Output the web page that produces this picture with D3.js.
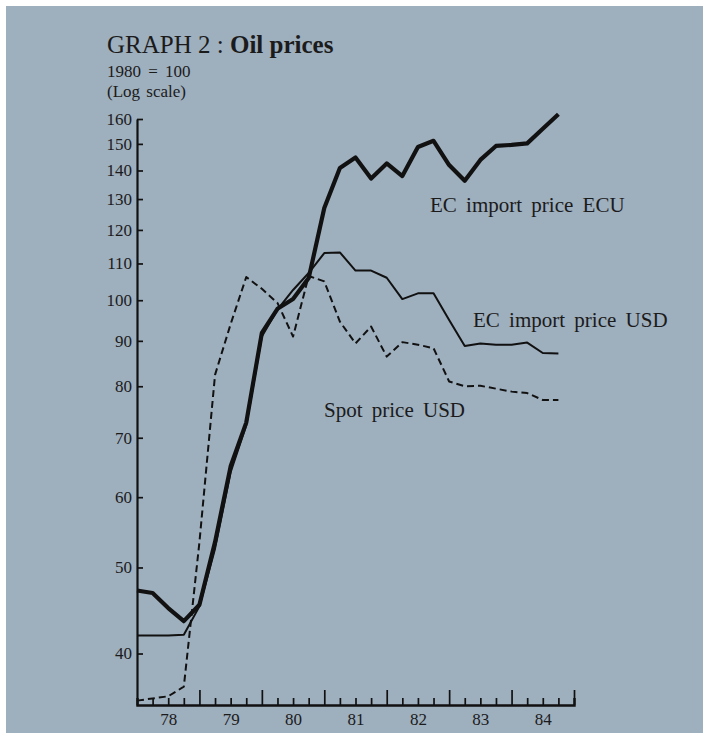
<!DOCTYPE html>
<html>
<head>
<meta charset="utf-8">
<script src="https://cdn.jsdelivr.net/npm/d3@7"></script>
<style>
  body { margin: 0; background: #ffffff; }
  svg { display: block; }
  text { font-family: 'Liberation Serif', 'Times New Roman', serif; fill: #1b1b1b; }
</style>
</head>
<body>
<svg width="703" height="733"></svg>
<script>
const quarters = ['1978Q1','1978Q2','1978Q3','1978Q4','1979Q1','1979Q2','1979Q3','1979Q4',
                  '1980Q1','1980Q2','1980Q3','1980Q4','1981Q1','1981Q2','1981Q3','1981Q4',
                  '1982Q1','1982Q2','1982Q3','1982Q4','1983Q1','1983Q2','1983Q3','1983Q4',
                  '1984Q1','1984Q2','1984Q3','1984Q4']
const ecu_import = [47.1, 46.8, 45.0, 43.5, 45.4, 53.4, 65.0, 72.8, 91.9, 97.8, 100.3, 105.9, 127.0, 140.9,
                    144.8, 137.1, 142.6, 138.0, 148.8, 151.2, 142.0, 136.3, 143.9, 149.2, 149.6, 150.2, 156.0, 162.0]
const usd_import = [41.9, 41.9, 41.9, 42.0, 45.2, 52.5, 64.0, 72.3, 91.0, 97.6, 102.7, 107.3, 113.0, 113.2,
                    108.0, 108.0, 106.0, 100.3, 101.8, 101.8, 95.0, 88.8, 89.4, 89.1, 89.1, 89.6, 87.2, 87.1]
const usd_spot   = [35.4, 35.6, 35.8, 36.7, 53.4, 82.4, 94.0, 106.2, 103.0, 99.3, 91.0, 106.5, 105.0, 94.6,
                    89.4, 93.4, 86.4, 89.7, 89.1, 88.3, 81.0, 80.0, 80.1, 79.5, 78.9, 78.6, 77.2, 77.2]
const y_ticks = [40, 50, 60, 70, 80, 90, 100, 110, 120, 130, 140, 150, 160]
const year_labels = ['78', '79', '80', '81', '82', '83', '84']
const series_labels = ['EC import price ECU', 'EC import price USD', 'Spot price USD']

function quarter_to_year(q) {
  return +q.slice(0, 4) + (+q.slice(5) - 1) / 4
}

const svg = d3.select('svg')

svg.append('rect').attr('x', 6).attr('y', 6).attr('width', 697).attr('height', 727).attr('fill', '#9eafbe')

const x = d3.scaleLinear().domain([1978, 1985]).range([137, 574])
const y = d3.scaleLog().domain([35, 160]).range([705, 119])

// y axis, ticks pointing into the plot
const yaxis = svg.append('g')
  .attr('transform', 'translate(137,0)')
  .call(d3.axisLeft(y).tickValues(y_ticks).tickFormat(d3.format('d')).tickSize(-6).tickSizeOuter(0).tickPadding(5))
yaxis.select('.domain').attr('stroke', '#111').attr('stroke-width', 2.2)
yaxis.selectAll('.tick line').attr('stroke', '#111').attr('stroke-width', 1.7)
yaxis.selectAll('.tick text').attr('font-size', 17).attr('font-family', 'Liberation Serif').attr('fill', '#222')

// x axis: quarter ticks, year ticks, labels centred on the year
const years = d3.range(1979, 1986)
const xminor = svg.append('g')
  .attr('transform', 'translate(0,705)')
  .call(d3.axisBottom(x).tickValues(quarters.map(quarter_to_year).filter((t) => t % 1 != 0)).tickSize(-7).tickFormat(''))
xminor.select('.domain').attr('stroke', '#111').attr('stroke-width', 2.4)
xminor.selectAll('.tick line').attr('stroke', '#111').attr('stroke-width', 1.7)

const xmajor = svg.append('g')
  .attr('transform', 'translate(0,705)')
  .call(d3.axisBottom(x).tickValues(years).tickSize(-15).tickFormat(''))
xmajor.select('.domain').remove()
xmajor.selectAll('.tick line').attr('stroke', '#111').attr('stroke-width', 1.7)

const xlabels = svg.append('g')
  .attr('transform', 'translate(0,705)')
  .call(d3.axisBottom(x).tickValues(year_labels.map((d) => 1900 + +d + 0.5)).tickSize(0).tickPadding(8)
        .tickFormat((d, i) => year_labels[i]))
xlabels.select('.domain').remove()
xlabels.selectAll('.tick text').attr('font-size', 17).attr('font-family', 'Liberation Serif').attr('fill', '#222')

const line = d3.line()
  .x((d) => x(d[0]))
  .y((d) => y(d[1]))

const styles = [
  {values: ecu_import, width: 4.2, dash: null},
  {values: usd_import, width: 2, dash: null},
  {values: usd_spot, width: 2, dash: '7,4'}
]
styles.forEach((s) => {
  svg.append('path')
    .datum(quarters.map((q, i) => [quarter_to_year(q), s.values[i]]))
    .attr('fill', 'none')
    .attr('stroke', '#111')
    .attr('stroke-width', s.width)
    .attr('stroke-linejoin', 'round')
    .attr('stroke-dasharray', s.dash)
    .attr('d', line)
})

// series labels
const label_pos = [[430, 212], [473, 327], [324, 417]]
series_labels.forEach((name, i) => {
  svg.append('text')
    .attr('x', label_pos[i][0])
    .attr('y', label_pos[i][1])
    .attr('font-size', 21)
    .attr('word-spacing', 4)
    .text(name)
})

// titles
const title = svg.append('text').attr('x', 107).attr('y', 53).attr('font-size', 25)
title.append('tspan').text('GRAPH 2 : ')
title.append('tspan').attr('font-weight', 'bold').text('Oil prices')
svg.append('text').attr('x', 107).attr('y', 77).attr('font-size', 17).attr('word-spacing', 3).text('1980 = 100')
svg.append('text').attr('x', 107).attr('y', 97).attr('font-size', 17).attr('word-spacing', 2).text('(Log scale)')
</script>
</body>
</html>
